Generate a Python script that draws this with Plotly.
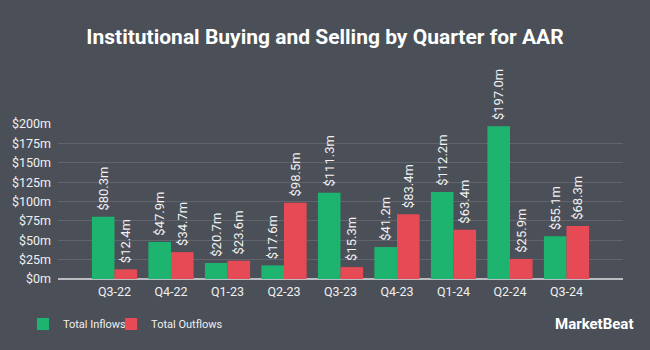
import plotly.graph_objects as go

quarters = ["Q3-22", "Q4-22", "Q1-23", "Q2-23", "Q3-23", "Q4-23", "Q1-24", "Q2-24", "Q3-24"]
inflows = [80.3, 47.9, 20.7, 17.6, 111.3, 41.2, 112.2, 197.0, 55.1]
outflows = [12.4, 34.7, 23.6, 98.5, 15.3, 83.4, 63.4, 25.9, 68.3]
y_ticks = [0, 25, 50, 75, 100, 125, 150, 175, 200]
y_tick_labels = ["$%dm" % v for v in y_ticks]

BG = "#4a4f58"
GREEN = "#1db46f"
RED = "#e64a55"
FONT = "Roboto"

fig = go.Figure()
for name, vals, col, lg in [("Total Inflows", inflows, GREEN, "legend"),
                            ("Total Outflows", outflows, RED, "legend2")]:
    fig.add_bar(
        x=quarters, y=vals, name=name, marker_color=col, marker_line_width=0,
        text=["\u00a0$%.1fm" % v for v in vals], textposition="outside", textangle=-90,
        constraintext="none", legend=lg,
        textfont=dict(color="#f2f2f2", size=13, family=FONT), cliponaxis=False,
    )

legend_style = dict(orientation="h", xanchor="left", y=-0.29, yanchor="middle",
                    font=dict(size=11, color="#f0f0f0", family=FONT),
                    bgcolor="rgba(0,0,0,0)", itemwidth=30)

fig.update_layout(
    width=650, height=350,
    paper_bgcolor=BG, plot_bgcolor=BG,
    margin=dict(l=58, r=27, t=124, b=69),
    barmode="group", bargap=0.2, bargroupgap=0,
    font=dict(family=FONT, color="#f0f0f0"),
    title=dict(text="<b>Institutional Buying and Selling by Quarter for AAR</b>",
               x=0.5, xanchor="center", y=0.895, yanchor="middle",
               font=dict(size=21, color="#ffffff", family="Roboto")),
    showlegend=True,
    legend=dict(x=-0.062, **legend_style),
    legend2=dict(x=0.094, **legend_style),
    xaxis=dict(range=[-1, 9], type="category", showgrid=False, ticks="",
               tickfont=dict(size=12.5, color="#f0f0f0"), showline=False, zeroline=False,
               ticklabelstandoff=3),
    yaxis=dict(range=[0, 200], tickvals=y_ticks, ticktext=y_tick_labels,
               showgrid=True, gridcolor="#5f646d", gridwidth=1,
               zeroline=True, zerolinecolor="#b9bcc1", zerolinewidth=2,
               tickfont=dict(size=12.5, color="#f0f0f0"), ticks="", ticklen=0,
               ticklabelstandoff=6),
    annotations=[dict(text="<b>MarketBeat</b>", xref="paper", yref="paper",
                      x=1.021, y=-0.29, xanchor="right", yanchor="middle", showarrow=False,
                      font=dict(size=15, color="#ffffff", family=FONT))],
)

fig.write_html("out.html")
